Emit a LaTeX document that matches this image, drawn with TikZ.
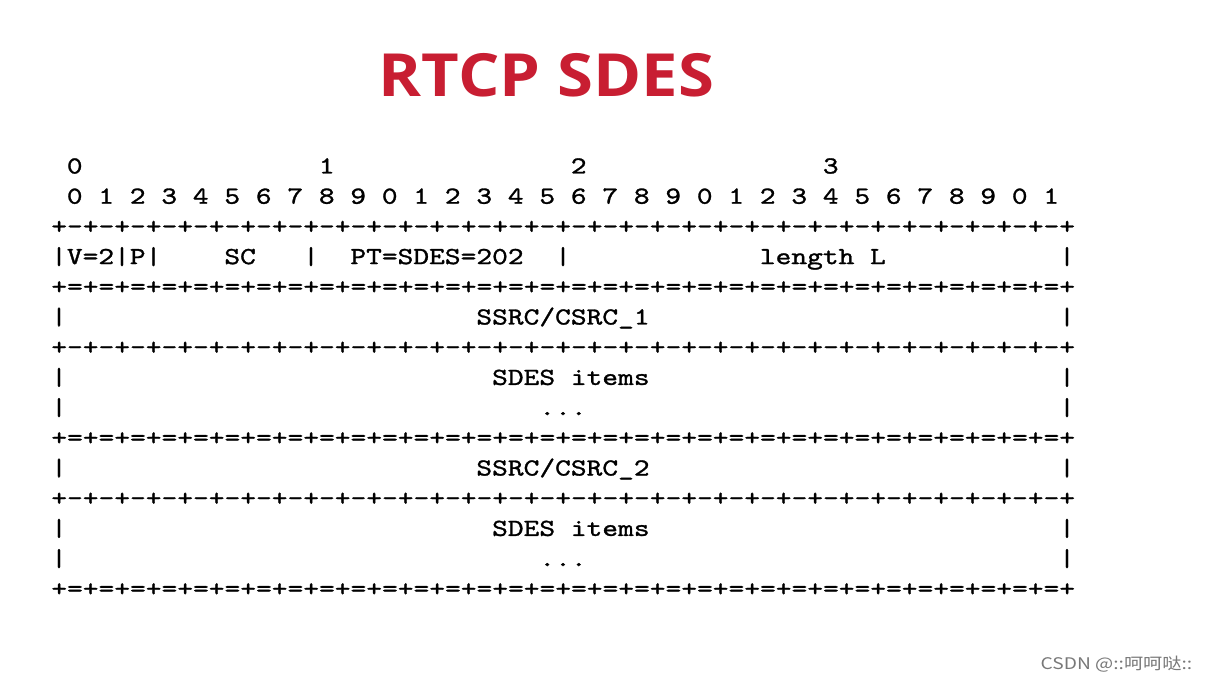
\documentclass[tikz,border=0pt]{standalone}
\usepackage{fontspec}
\usetikzlibrary{positioning}
\font\asciifont="[lmmono10-regular.otf]:extend=1.2245;embolden=1.2" at 24.5pt
\newfontfamily\titlefont{Open Sans}[FakeStretch=1.095]
\newfontfamily\cjkfont{Noto Sans CJK SC}[FakeStretch=1.2]
\definecolor{sdesred}{RGB}{200,30,50}
\definecolor{csdngray}{RGB}{120,120,120}
\newcommand{\dashoct}{+-+-+-+-+-+-+-+-}
\newcommand{\eqoct}{+=+=+=+=+=+=+=+=}
\newcommand{\dashrow}{\dashoct\dashoct\dashoct\dashoct+}
\newcommand{\eqrow}{\eqoct\eqoct\eqoct\eqoct+}
\tikzset{
  cell/.style={anchor=base, font=\asciifont},
  rulerow/.style={cell, anchor=base west},
}
\begin{document}
\begin{tikzpicture}[x=1pt,y=-1pt]
\tikzstyle{every node}+=[inner sep=0pt]
\fill [white] (0,0) rectangle (1207,684);
\node [font=\titlefont\bfseries\fontsize{59.5}{60}\selectfont, text=sdesred, anchor=base] (title) at (546.5,97) {RTCP SDES};
% one unit = one character cell
\begin{scope}[shift={(59,173.5)}, x=15.75pt, y=-30.2pt]
\node [cell] (ten0) at (1,0) {0};
\node [cell] (ten1) at (17,0) {1};
\node [cell] (ten2) at (33,0) {2};
\node [cell] (ten3) at (49,0) {3};
\foreach \b [evaluate=\b as \d using {int(mod(\b,10))}] in {0,...,31}
  \node [cell] (bit\b) at ({2*\b+1},1) {\d};
\node [rulerow] (rule2) at (-0.5,2) {\dashrow};
\foreach \c/\n in {0/a,4/b,6/c,16/d,32/e,64/f}
  \node [cell] (bar\n) at (\c,3) {|};
\node [cell] (version) at (2,3) {V=2};
\node [cell] (padding) at (5,3) {P};
\node [cell] (count) at (11.5,3) {SC};
\node [cell] (ptype) at (24,3) {PT=SDES=202};
\node [cell] (length) at (48.5,3) {length L};
\node [rulerow] (rule4) at (-0.5,4) {\eqrow};
\node [cell] (ssrc1) at (32,5) {SSRC/CSRC\_1};
\node [rulerow] (rule6) at (-0.5,6) {\dashrow};
\node [cell] (items1) at (32.5,7) {SDES items};
\node [cell] (more1) at (32,8) {...};
\node [rulerow] (rule9) at (-0.5,9) {\eqrow};
\node [cell] (ssrc2) at (32,10) {SSRC/CSRC\_2};
\node [rulerow] (rule11) at (-0.5,11) {\dashrow};
\node [cell] (items2) at (32.5,12) {SDES items};
\node [cell] (more2) at (32,13) {...};
\node [rulerow] (rule14) at (-0.5,14) {\eqrow};
\foreach \r in {5,7,8,10,12,13} {
  \node [cell] (left\r) at (0,\r) {|};
  \node [cell] (right\r) at (64,\r) {|};
}
\end{scope}
\node [font=\cjkfont\fontsize{16}{18}\selectfont, text=csdngray, anchor=base east] (csdn) at (1192.5,669.3) {CSDN @::呵呵哒::};
\end{tikzpicture}
\end{document}
